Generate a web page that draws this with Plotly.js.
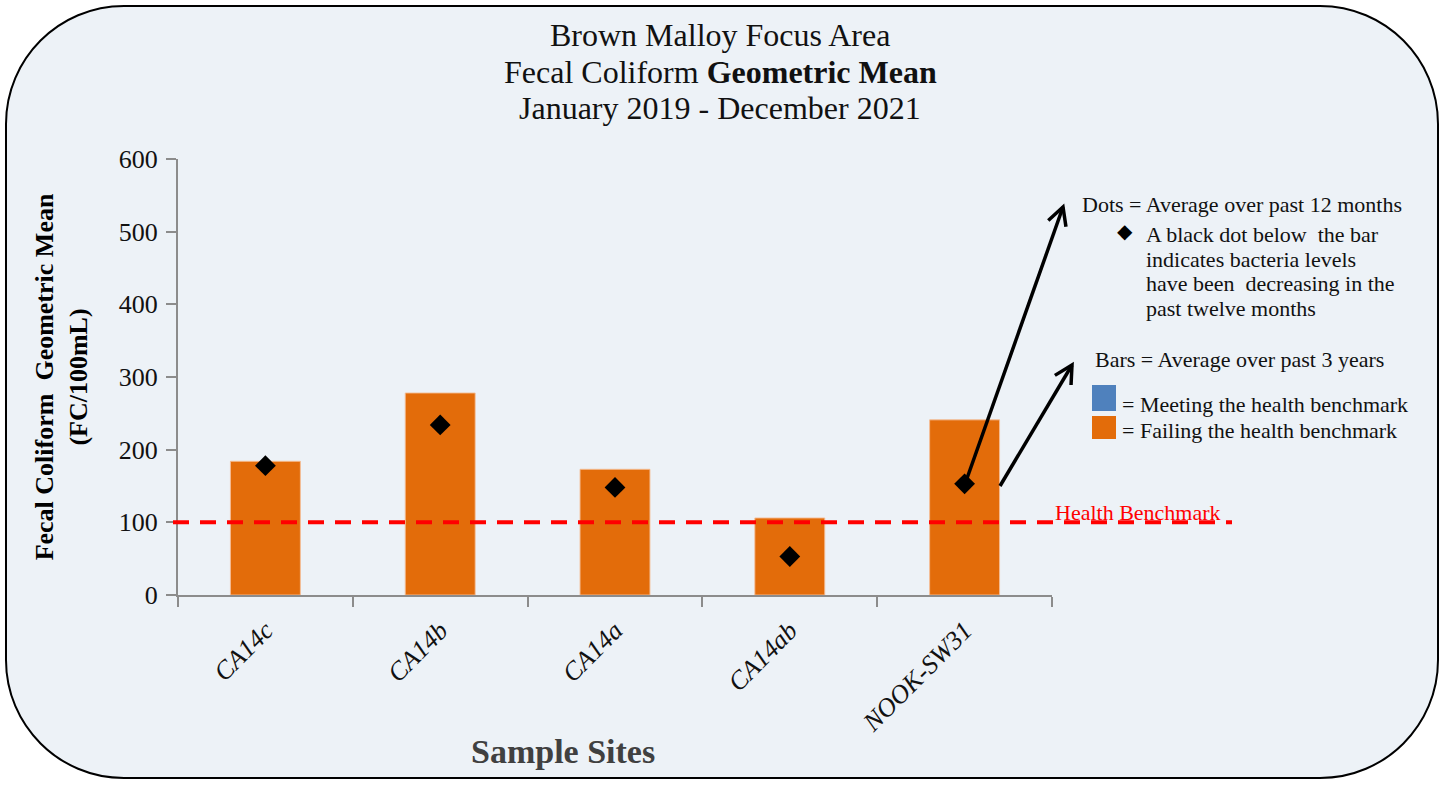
<!DOCTYPE html>
<html>
<head>
<meta charset="utf-8">
<script src="https://cdn.plot.ly/plotly-3.0.1.min.js"></script>
<style>html,body{margin:0;padding:0;background:#fff;}#chart{width:1445px;height:787px;}</style>
</head>
<body>
<div id="chart"></div>
<script>
// ---- data ----
const sites = ['CA14c', 'CA14b', 'CA14a', 'CA14ab', 'NOOK-SW31'];
const threeYearGeoMean = [184, 278, 173, 106, 241];   // bars: average over past 3 years
const twelveMonthGeoMean = [178, 234, 148, 53, 153];  // dots: average over past 12 months
const healthBenchmark = 100;
const yTicks = [0, 100, 200, 300, 400, 500, 600];

// ---- layout helpers (pixel -> paper) ----
const W = 1445, H = 787;
const M = {l: 178, r: 393, t: 159, b: 192};
const PW = W - M.l - M.r, PH = H - M.t - M.b;
const xp = X => (X - M.l) / PW;
const yp = Y => (H - M.b - Y) / PH;
const P = (X, Y) => xp(X).toFixed(5) + ',' + yp(Y).toFixed(5);

const FONT = 'Liberation Serif, Times New Roman, serif';
const ORANGE = '#E36C0A';
const BLUE = '#4F81BD';

// rounded background panel
const L0 = 6, T0 = 6, R0 = 1438, B0 = 778, rad = 118, k = rad * 0.5523;
const panelPath = `M ${P(L0 + rad, T0)} L ${P(R0 - rad, T0)} C ${P(R0 - rad + k, T0)} ${P(R0, T0 + rad - k)} ${P(R0, T0 + rad)} ` +
  `L ${P(R0, B0 - rad)} C ${P(R0, B0 - rad + k)} ${P(R0 - rad + k, B0)} ${P(R0 - rad, B0)} ` +
  `L ${P(L0 + rad, B0)} C ${P(L0 + rad - k, B0)} ${P(L0, B0 - rad + k)} ${P(L0, B0 - rad)} ` +
  `L ${P(L0, T0 + rad)} C ${P(L0, T0 + rad - k)} ${P(L0 + rad - k, T0)} ${P(L0 + rad, T0)} Z`;

function arrow(x1, y1, x2, y2) {
  const dx = x2 - x1, dy = y2 - y1, len = Math.hypot(dx, dy);
  const ux = dx / len, uy = dy / len;
  const a = 28 * Math.PI / 180, al = 20;
  const rot = (ang) => [ux * Math.cos(ang) - uy * Math.sin(ang), ux * Math.sin(ang) + uy * Math.cos(ang)];
  const r1 = rot(a), r2 = rot(-a);
  const ax1 = x2 - al * r1[0], ay1 = y2 - al * r1[1];
  const ax2 = x2 - al * r2[0], ay2 = y2 - al * r2[1];
  return [
    {type: 'line', xref: 'paper', yref: 'paper', x0: xp(x1), y0: yp(y1), x1: xp(x2), y1: yp(y2),
     line: {color: '#000', width: 3.5}},
    {type: 'path', xref: 'paper', yref: 'paper', path: `M ${P(ax1, ay1)} L ${P(x2, y2)} L ${P(ax2, ay2)}`,
     line: {color: '#000', width: 3.5}}
  ];
}

const shapes = [
  {type: 'path', layer: 'below', xref: 'paper', yref: 'paper', path: panelPath,
   fillcolor: '#EDF2F7', line: {color: '#000', width: 2}},
  {type: 'line', xref: 'paper', yref: 'y', x0: xp(173), x1: xp(1232), y0: healthBenchmark, y1: healthBenchmark,
   line: {color: '#FF0000', width: 4, dash: '16px,11px'}},
  ...arrow(965, 484, 1063, 207),
  ...arrow(1000, 486, 1072, 365),
  {type: 'rect', xref: 'paper', yref: 'paper', x0: xp(1092), x1: xp(1116), y0: yp(411), y1: yp(385),
   fillcolor: BLUE, line: {width: 0}},
  {type: 'rect', xref: 'paper', yref: 'paper', x0: xp(1092), x1: xp(1116), y0: yp(439), y1: yp(416),
   fillcolor: ORANGE, line: {width: 0}}
];

function txt(X, Y, text, size, opts) {
  return Object.assign({
    xref: 'paper', yref: 'paper', x: xp(X), y: yp(Y), text: text, showarrow: false,
    xanchor: 'left', yanchor: 'middle', font: {family: FONT, size: size, color: '#111'}
  }, opts || {});
}

const annotations = [
  txt(720, 35, 'Brown Malloy Focus Area', 32, {xanchor: 'center'}),
  txt(720, 72, 'Fecal Coliform <b>Geometric Mean</b>', 32, {xanchor: 'center'}),
  txt(720, 108, 'January 2019 - December 2021', 32, {xanchor: 'center'}),
  txt(1080, 204, 'Dots = Average over past 12 months', 22),
  txt(1125, 231, '◆', 20, {xanchor: 'center', font: {family: 'DejaVu Sans', size: 20, color: '#000'}}),
  txt(1144, 234, 'A black dot below  the bar', 22),
  txt(1144, 259, 'indicates bacteria levels', 22),
  txt(1144, 283, 'have been  decreasing in the', 22),
  txt(1144, 308, 'past twelve months', 22),
  txt(1093, 359, 'Bars = Average over past 3 years', 22),
  txt(1120, 404, '= Meeting the health benchmark', 22),
  txt(1120, 430, '= Failing the health benchmark', 22),
  txt(1053, 512, 'Health Benchmark', 22, {font: {family: FONT, size: 22, color: '#FF0000'}}),
  txt(563, 751, '<b>Sample Sites</b>', 34, {xanchor: 'center', font: {family: FONT, size: 34, color: '#404040'}})
];

const traces = [
  {type: 'bar', x: sites, y: threeYearGeoMean, width: 0.4, showlegend: false,
   marker: {color: ORANGE, line: {color: 'rgba(245,190,150,0.9)', width: 1}}},
  {type: 'scatter', mode: 'markers', x: sites, y: twelveMonthGeoMean, showlegend: false,
   marker: {symbol: 'diamond', size: 16, color: '#000'}}
];

const layout = {
  width: W, height: H,
  margin: M,
  paper_bgcolor: '#ffffff',
  plot_bgcolor: 'rgba(0,0,0,0)',
  hovermode: false,
  showlegend: false,
  font: {family: FONT, color: '#111'},
  xaxis: {
    type: 'category', range: [-0.5, 4.5], showgrid: false, zeroline: false,
    showline: true, linecolor: '#8c8c8c', linewidth: 2,
    ticks: 'outside', tickson: 'boundaries', ticklen: 10, tickwidth: 2, tickcolor: '#8c8c8c',
    tickangle: -45, ticklabelstandoff: 8,
    tickfont: {family: FONT, size: 26, style: 'italic', color: '#111'}
  },
  yaxis: {
    range: [0, 600], tickvals: yTicks, showgrid: false, zeroline: false,
    showline: true, linecolor: '#8c8c8c', linewidth: 2,
    ticks: 'outside', ticklen: 10, tickwidth: 2, tickcolor: '#8c8c8c', ticklabelstandoff: 3,
    tickfont: {family: FONT, size: 26, color: '#111'},
    title: {text: '<b>Fecal Coliform  Geometric Mean<br>(FC/100mL)</b>', standoff: 24,
            font: {family: FONT, size: 26, color: '#000'}}
  },
  shapes: shapes,
  annotations: annotations
};

Plotly.newPlot('chart', traces, layout, {displayModeBar: false, staticPlot: true});
</script>
</body>
</html>
